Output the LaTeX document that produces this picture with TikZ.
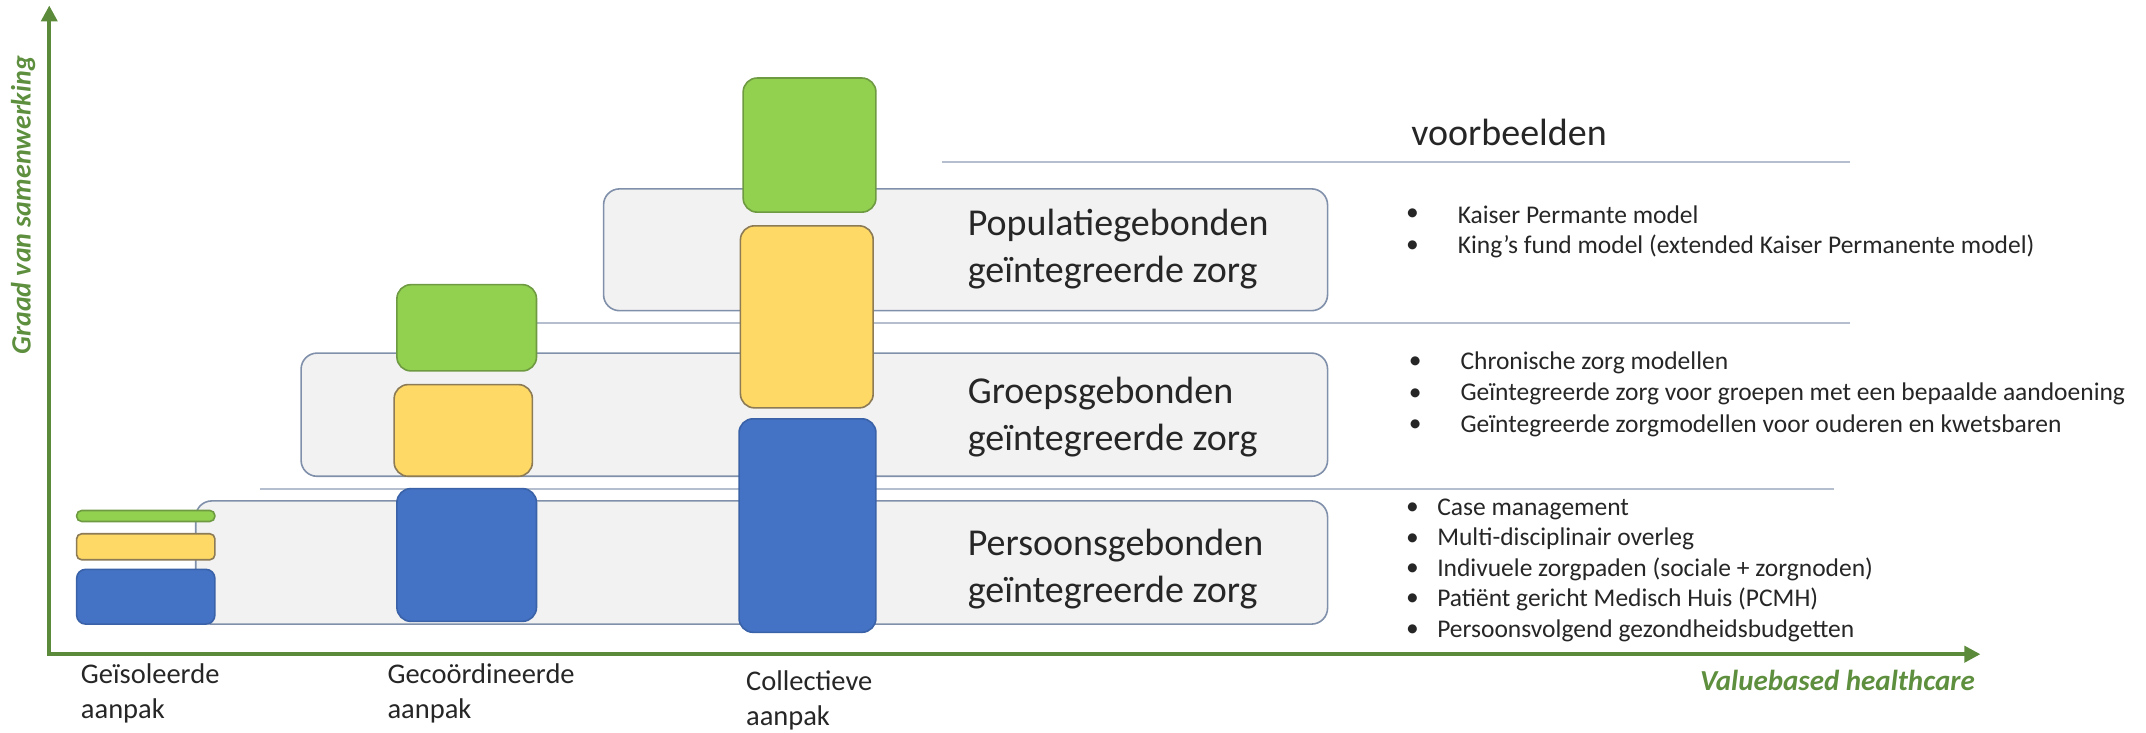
\documentclass[tikz,border=0pt]{standalone}
\usepackage{fontspec}
\setmainfont{Carlito}
\usetikzlibrary{arrows.meta,fit}
\definecolor{axisgreen}{HTML}{5A8A3A}
\definecolor{labgreen}{HTML}{5E8F3E}
\definecolor{gfill}{HTML}{92D050}
\definecolor{gline}{HTML}{6E9A42}
\definecolor{yfill}{HTML}{FFD966}
\definecolor{yline}{HTML}{8C7B55}
\definecolor{bfill}{HTML}{4472C4}
\definecolor{bline}{HTML}{3A62A8}
\definecolor{bandfill}{HTML}{F2F2F2}
\definecolor{bandline}{HTML}{8090AA}
\definecolor{sepline}{HTML}{B4BECE}
\definecolor{txt}{HTML}{262626}
\begin{document}
\begin{tikzpicture}[x=1.3686pt,y=-1.3686pt,
  band/.style={draw=bandline,fill=bandfill,line width=1.6pt,rounded corners=16pt,inner sep=0pt},
  gbox/.style={draw=gline,fill=gfill,line width=1.6pt,rounded corners=14pt,inner sep=0pt},
  ybox/.style={draw=yline,fill=yfill,line width=1.6pt,rounded corners=14pt,inner sep=0pt},
  bbox/.style={draw=bline,fill=bfill,line width=1.6pt,rounded corners=14pt,inner sep=0pt},
  smallr/.style={rounded corners=5pt},
  sep/.style={draw=sepline,line width=2pt},
  axis/.style={draw=axisgreen,line width=3.8pt,-{Triangle[length=16pt,width=16pt]}},
  bigtxt/.style={text=txt,font=\fontsize{38}{47}\selectfont,align=left,anchor=west,inner sep=0pt},
  listtxt/.style={text=txt,font=\fontsize{25.5}{30}\selectfont,anchor=west,inner sep=0pt},
  bul/.style={text=txt,font=\fontsize{25.5}{30}\selectfont,anchor=center,inner sep=0pt},
  lowtxt/.style={text=txt,font=\fontsize{28.5}{35}\selectfont,align=left,anchor=north west,inner sep=0pt},
  axlab/.style={text=labgreen,inner sep=0pt}
]
\useasboundingbox (0,0) rectangle (1568,535);
% bands
\node[band,fit={(143,366) (970,456)}] (pband) {};
\node[band,fit={(220,258) (970,348)}] (gband) {};
\node[band,fit={(441,138) (970,227)}] (oband) {};
% separator lines
\coordinate (s0a) at (688,118); \coordinate (s0b) at (1352,118);
\coordinate (s1a) at (300,236); \coordinate (s1b) at (1352,236);
\coordinate (s2a) at (190,357); \coordinate (s2b) at (1340,357);
\draw[sep] (s0a) -- (s0b);
\draw[sep] (s1a) -- (s1b);
\draw[sep] (s2a) -- (s2b);
% isolated
\node[gbox,smallr,fit={(56,373) (157,381)}] (ig) {};
\node[ybox,smallr,fit={(56,390) (157,409)}] (iy) {};
\node[bbox,rounded corners=9pt,fit={(56,416) (157,456)}] (ib) {};
% coordinated
\node[gbox,fit={(290,208) (392,271)}] (cg) {};
\node[ybox,fit={(288,281) (389,348)}] (cy) {};
\node[bbox,fit={(290,357) (392,454)}] (cb) {};
% collective
\node[gbox,fit={(543,57) (640,155)}] (kg) {};
\node[ybox,fit={(541,165) (638,298)}] (ky) {};
\node[bbox,fit={(540,306) (640,462)}] (kb) {};
% axes
\coordinate (org) at (36,478);
\coordinate (ytip) at (36,4);
\coordinate (xtip) at (1447,478);
\draw[axis] (org) -- (ytip);
\draw[axis] ([xshift=-1.9pt]org) -- (xtip);
\node[axlab,rotate=90,font=\fontsize{28}{30}\selectfont\bfseries\itshape] (ylab) at (17,150) {Graad van samenwerking};
\node[axlab,anchor=east,font=\fontsize{29}{30}\selectfont\bfseries\itshape] (xlab) at (1443,497) {Valuebased healthcare};
% band texts
\node[bigtxt] (vb) at (1031,97) {voorbeelden};
\node[bigtxt] (ot) at (707,182) {Populatiegebonden\\geïntegreerde zorg};
\node[bigtxt] (gt) at (707,304.5) {Groepsgebonden\\geïntegreerde zorg};
\node[bigtxt] (pt) at (707,415.5) {Persoonsgebonden\\geïntegreerde zorg};
% lists
\node[bul] (o1b) at (1032,157) {•}; \node[listtxt] (o1) at (1065,157) {Kaiser Permante model};
\node[bul] (o2b) at (1032,180) {•}; \node[listtxt] (o2) at (1065,180) {King’s fund model (extended Kaiser Permanente model)};
\node[bul] (g1b) at (1034,265) {•}; \node[listtxt] (g1) at (1067,265) {Chronische zorg modellen};
\node[bul] (g2b) at (1034,288) {•}; \node[listtxt] (g2) at (1067,288) {Geïntegreerde zorg voor groepen met een bepaalde aandoening};
\node[bul] (g3b) at (1034,311) {•}; \node[listtxt] (g3) at (1067,311) {Geïntegreerde zorgmodellen voor ouderen en kwetsbaren};
\node[bul] (p1b) at (1032,372) {•}; \node[listtxt] (p1) at (1050,372) {Case management};
\node[bul] (p2b) at (1032,394) {•}; \node[listtxt] (p2) at (1050,394) {Multi-disciplinair overleg};
\node[bul] (p3b) at (1032,416) {•}; \node[listtxt] (p3) at (1050,416) {Indivuele zorgpaden (sociale + zorgnoden)};
\node[bul] (p4b) at (1032,438) {•}; \node[listtxt] (p4) at (1050,438) {Patiënt gericht Medisch Huis (PCMH)};
\node[bul] (p5b) at (1032,461) {•}; \node[listtxt] (p5) at (1050,461) {Persoonsvolgend gezondheidsbudgetten};
% bottom labels
\node[lowtxt] (l1) at (59,485) {Geïsoleerde\\aanpak};
\node[lowtxt] (l2) at (283,485) {Gecoördineerde\\aanpak};
\node[lowtxt] (l3) at (545,490) {Collectieve\\aanpak};
\end{tikzpicture}
\end{document}
